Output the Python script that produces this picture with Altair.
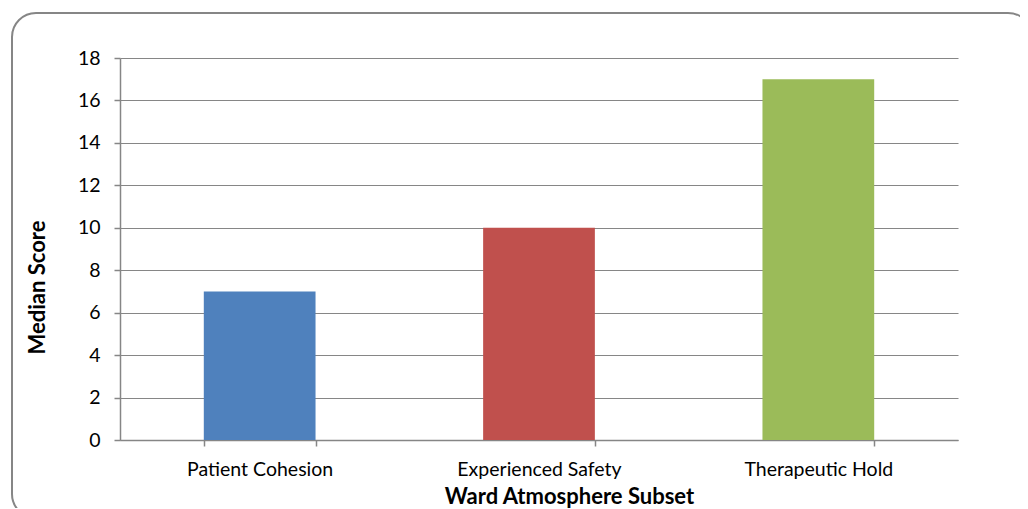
import altair as alt
import pandas as pd

categories = ["Patient Cohesion", "Experienced Safety", "Therapeutic Hold"]
values = [7, 10, 17]
colors = ["#4F81BD", "#C0504D", "#9BBB59"]

df = pd.DataFrame({"category": categories, "value": values})

FONT = "Lato"

border = alt.Chart(pd.DataFrame({"a": [0]})).mark_rect(
    fill="transparent", stroke="#868686", strokeWidth=2, cornerRadius=24, clip=False
).encode(
    x=alt.value(-108), x2=alt.value(912), y=alt.value(-45), y2=alt.value(460)
)

bars = alt.Chart(df).mark_bar().encode(
    x=alt.X("category:N", sort=categories,
            scale=alt.Scale(paddingInner=0.6, paddingOuter=0.3),
            axis=alt.Axis(title="Ward Atmosphere Subset", labelAngle=0,
                          tickBand="extent", tickSize=6, labelPadding=29,
                          labelBaseline="alphabetic", labelFontSize=19.5,
                          titleX=449, titleY=63, titleBaseline="alphabetic",
                          titleAlign="center", titleFontSize=22)),
    y=alt.Y("value:Q", scale=alt.Scale(domain=[0, 18]),
            axis=alt.Axis(title="Median Score", values=list(range(0, 19, 2)),
                          tickSize=6, labelPadding=14, labelFontSize=19.5,
                          titleAngle=-90, titleFontSize=22,
                          titleX=-83, titleY=229, titleBaseline="middle",
                          titleAlign="center")),
    color=alt.Color("category:N", sort=categories,
                    scale=alt.Scale(domain=categories, range=colors), legend=None),
)

chart = alt.layer(border, bars).properties(
    width=838, height=382,
    autosize=alt.AutoSizeParams(type="none"),
    padding={"left": 112, "top": 50, "right": 62, "bottom": 68},
).configure_view(stroke=None).configure_axis(
    labelFont=FONT, titleFont=FONT,
    labelColor="#000000", titleColor="#000000", titleFontWeight="bold",
    domainColor="#868686", tickColor="#868686", gridColor="#868686",
    domainWidth=1.5, tickWidth=1.5, gridWidth=1.2,
).configure_axisX(grid=False).configure_axisY(grid=True)

chart.save("out.html", embed_options={"renderer": "svg", "actions": False})
